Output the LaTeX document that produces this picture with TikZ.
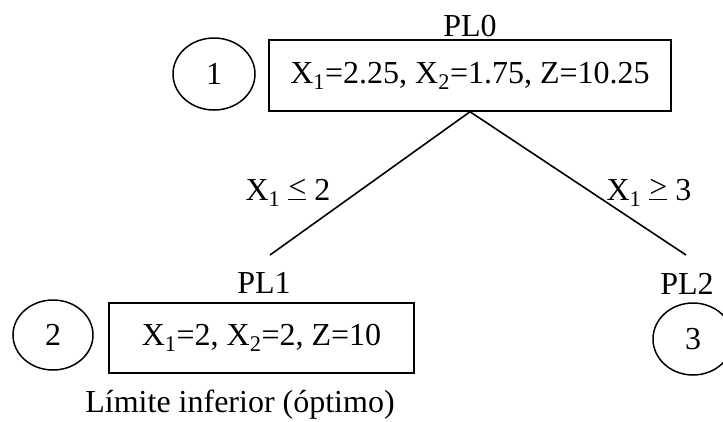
\documentclass[tikz,border=0pt]{standalone}
\usepackage{fontspec}
\setmainfont{Liberation Serif}
\usetikzlibrary{shapes.geometric}
\newcommand{\myle}{\leavevmode\vbox{\hbox{<}\kern1.5pt\hrule height 1.4pt}}
\newcommand{\myge}{\leavevmode\vbox{\hbox{>}\kern1.5pt\hrule height 1.4pt}}
\begin{document}
\begin{tikzpicture}[x=1pt,y=-1pt,
  every node/.style={font=\fontsize{32}{38}\selectfont, inner sep=0pt},
  numcirc/.style={draw, ellipse, line width=1.5pt, minimum width=82pt, minimum height=72pt},
  solbox/.style={draw, rectangle, line width=1.5pt},
  branch/.style={line width=1.6pt}]
\useasboundingbox (0,0) rectangle (723,421);
% top
\node[anchor=base] (pl0) at (470,36) {PL0};
\node[numcirc] (c1) at (214,74) {1};
\node[solbox, minimum width=402pt, minimum height=71pt] (b0) at (470,75.5)
  {\raisebox{5pt}{X\textsubscript{1}=2.25, X\textsubscript{2}=1.75, Z=10.25}};
% branches
\coordinate (e1) at (270,255);
\coordinate (e2) at (686,255);
\draw[branch] (b0.south) -- (e1);
\draw[branch] (b0.south) -- (e2);
\node[anchor=base] (l1) at (288,200) {X\textsubscript{1} \myle{} 2};
\node[anchor=base] (l2) at (649,200) {X\textsubscript{1} \myge{} 3};
% left child
\node[anchor=base] (pl1) at (264,293) {PL1};
\node[numcirc, minimum width=80pt, minimum height=70pt] (c2) at (53,335) {2};
\node[solbox, minimum width=305pt, minimum height=70pt] (b1) at (261.5,338)
  {X\textsubscript{1}=2, X\textsubscript{2}=2, Z=10};
\node[anchor=base] (lim) at (240,412) {Límite inferior (óptimo)};
% right child
\node[anchor=base] (pl2) at (687,294) {PL2};
\node[numcirc, minimum width=80pt, minimum height=72pt] (c3) at (693,339) {3};
\end{tikzpicture}
\end{document}
